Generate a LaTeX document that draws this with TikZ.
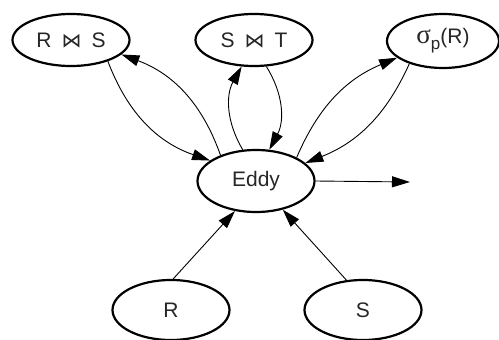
\documentclass[tikz,border=0pt]{standalone}
\usepackage{fontspec}
\setmainfont{Liberation Sans}
\newfontfamily\dejavu{DejaVu Sans}
\newfontfamily\greekserif{Liberation Serif}
\usetikzlibrary{shapes.geometric,arrows.meta}
\newcommand{\bowtiesym}{\hspace{10pt}{\dejavu\fontsize{20}{20}\selectfont ⋈}\hspace{10pt}}
\begin{document}
\begin{tikzpicture}[x=1pt,y=-1pt,
  opnode/.style={ellipse,draw,line width=2.2pt,minimum width=117pt,minimum height=52pt,inner sep=0pt,
    text=black!85,font=\fontsize{21}{21}\selectfont},
  conn/.style={line width=0.9pt,-{Triangle[length=18pt,width=11pt]}}]
\useasboundingbox (0,0) rectangle (499,340);
\node[opnode] (RS) at (71,40) {R\bowtiesym S};
\node[opnode] (ST) at (254,40) {S\bowtiesym T};
\node[opnode,minimum width=112pt,minimum height=54pt] (SIG) at (443,41) {{\greekserif\fontsize{27}{27}\selectfont σ}\raisebox{-6pt}{\fontsize{17}{17}\selectfont p}(R)};
\node[opnode,minimum height=62pt] (EDDY) at (256,181) {Eddy};
\node[opnode,minimum height=60pt] (R) at (171,310) {R};
\node[opnode,minimum height=60pt] (S) at (363,310) {S};
\coordinate (OUT) at (410,182);
\draw[conn] (RS.-30) to[bend right=25] (EDDY.156);
\draw[conn] (EDDY.144) to[bend right=25] (RS.-16);
\draw[conn] (EDDY.113) to[bend left=30] (ST.-115);
\draw[conn] (ST.-65) to[bend left=30] (EDDY.67);
\draw[conn] (EDDY.30) to[bend left=22] (SIG.200);
\draw[conn] (SIG.214) to[bend left=22] (EDDY.20);
\draw[conn] (EDDY.0) -- (OUT);
\draw[conn] (R.86) -- (EDDY.-125);
\draw[conn] (S.119) -- (EDDY.-47);
\end{tikzpicture}
\end{document}
